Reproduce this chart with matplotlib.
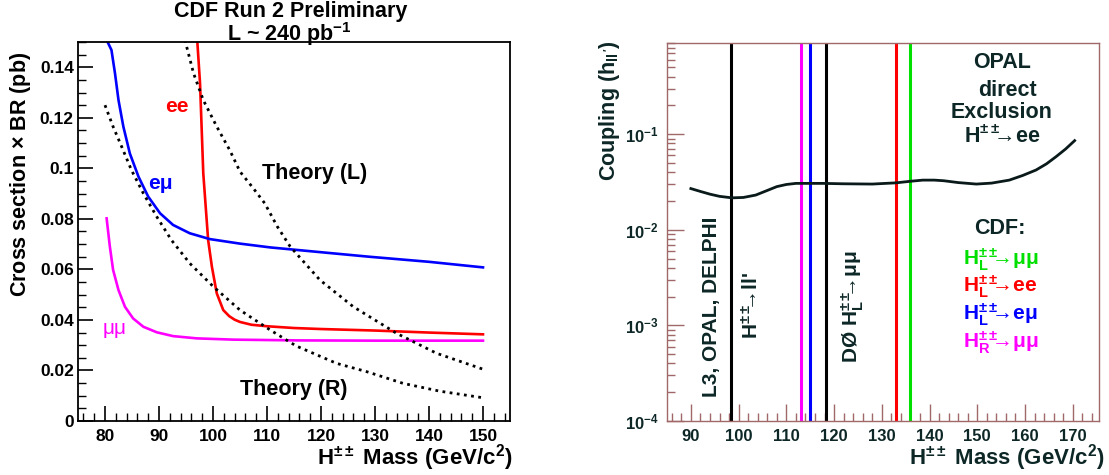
import matplotlib
matplotlib.use('Agg')
import matplotlib.pyplot as plt
from matplotlib.ticker import MultipleLocator, FuncFormatter, LogLocator, LogFormatterSciNotation

# Fonts: ROOT-like bold Helvetica
plt.rcParams['font.family'] = ['Liberation Sans', 'DejaVu Sans']
plt.rcParams['font.weight'] = 'bold'
plt.rcParams['mathtext.fontset'] = 'custom'
plt.rcParams['mathtext.rm'] = 'Liberation Sans:bold'
plt.rcParams['mathtext.it'] = 'Liberation Sans:bold'
plt.rcParams['mathtext.bf'] = 'Liberation Sans:bold'

# Left panel: cross section x BR limits (pb) vs mass
ee_mass = [97.1, 97.6, 98.2, 99.1, 99.8, 100.7, 101.9, 103.0, 104.0, 105.0, 107.1, 110.0, 115.0, 120.0, 130.0, 140.0, 150.0]
ee_xsec = [0.150, 0.1336, 0.098, 0.0716, 0.061, 0.0505, 0.0439, 0.0415, 0.0401, 0.0392, 0.0381, 0.0375, 0.0368, 0.0364, 0.0358, 0.0350, 0.0343]

emu_mass = [80.3, 81.2, 81.85, 82.5, 83.4, 84.6, 86.2, 88.0, 90.2, 92.6, 95.7, 99.4, 105.0, 110.6, 120.0, 129.0, 140.0, 150.0]
emu_xsec = [0.1508, 0.1468, 0.1376, 0.127, 0.1165, 0.1059, 0.0967, 0.0888, 0.0822, 0.0776, 0.0743, 0.072, 0.0702, 0.0687, 0.0668, 0.0650, 0.0630, 0.0608]

mumu_mass = [80.3, 80.9, 81.5, 82.5, 83.7, 85.2, 87.1, 89.6, 92.6, 97.0, 103.8, 115.7, 130.0, 150.0]
mumu_xsec = [0.0802, 0.069, 0.0598, 0.0518, 0.0452, 0.0406, 0.0373, 0.0351, 0.0336, 0.0327, 0.0322, 0.0319, 0.0318, 0.0318]

thL_mass = [94.8, 96.4, 98.2, 100.7, 103.1, 105.0, 107.5, 109.6, 111.9, 114.3, 119.8, 126.0, 134.0, 141.4, 150.0]
thL_xsec = [0.1508, 0.1376, 0.127, 0.1165, 0.1072, 0.0987, 0.0920, 0.0861, 0.0770, 0.069, 0.0558, 0.0452, 0.0347, 0.0268, 0.0205]

thR_mass = [80.0, 81.5, 83.1, 84.9, 87.1, 89.6, 92.3, 95.7, 100.1, 105.0, 110.6, 115.4, 122.9, 128.5, 135.2, 142.0, 150.0]
thR_xsec = [0.125, 0.1165, 0.1085, 0.0993, 0.0901, 0.0808, 0.0716, 0.0624, 0.0531, 0.0439, 0.0360, 0.0297, 0.0228, 0.0195, 0.0149, 0.0118, 0.0092]

# Right panel: OPAL exclusion curve and mass limits
opal_mass = [90.0, 92.0, 94.0, 96.0, 98.6, 101.0, 103.6, 106.0, 108.0, 110.0, 112.0, 117.6, 122.0, 128.0, 133.0,
             136.0, 138.6, 141.0, 143.0, 146.0, 149.8, 153.0, 156.7, 159.5, 162.3, 164.5, 166.5, 168.5, 170.4]
opal_coup = [0.027, 0.0252, 0.0236, 0.0224, 0.0216, 0.0218, 0.0231, 0.0258, 0.0283, 0.0298, 0.0306, 0.0306, 0.0303,
             0.0301, 0.031, 0.0322, 0.0331, 0.0331, 0.0326, 0.0312, 0.0301, 0.0308, 0.0331, 0.037, 0.0422, 0.049,
             0.0582, 0.070, 0.0857]

limit_mass = [98.5, 113.0, 115.0, 118.4, 133.0, 136.0]
limit_color = ['black', '#ff00ff', '#0000ff', 'black', '#ff0000', '#00e000']

W, H = 1109, 475
fig = plt.figure(figsize=(W / 100, H / 100), dpi=100)

def fx(px):
    return px / W

def fy(py):
    return 1 - py / H

# ---------------- left panel ----------------
ax = fig.add_axes([fx(78), fy(421), fx(510) - fx(78), fy(42) - fy(421)])
ax.plot(ee_mass, ee_xsec, color='#ff0000', lw=1.9)
ax.plot(emu_mass, emu_xsec, color='#0000ff', lw=1.9)
ax.plot(mumu_mass, mumu_xsec, color='#ff00ff', lw=1.9)
ax.plot(thL_mass, thL_xsec, color='black', lw=2.0, ls=(0, (1, 1.6)))
ax.plot(thR_mass, thR_xsec, color='black', lw=2.0, ls=(0, (1, 1.6)))
ax.set_xlim(75, 155)
ax.set_ylim(0, 0.15)
ax.xaxis.set_major_locator(MultipleLocator(10))
ax.xaxis.set_minor_locator(MultipleLocator(2))
ax.yaxis.set_major_locator(MultipleLocator(0.02))
ax.yaxis.set_minor_locator(MultipleLocator(0.005))
ax.yaxis.set_major_formatter(FuncFormatter(lambda v, p: '%g' % round(v, 3)))
ax.tick_params(which='both', direction='in', top=False, right=False, labelsize=12.5)
ax.tick_params(which='major', length=11, width=1.2)
ax.tick_params(which='minor', length=6, width=1.0)
ax.tick_params(axis='y', pad=3)
ax.tick_params(axis='x', pad=6)
for s in ax.spines.values():
    s.set_linewidth(1.3)

ax.text(93.3, 0.1244, 'ee', color='#ff0000', fontsize=15, ha='center', va='center')
ax.text(90.2, 0.094, 'e\u03bc', color='#0000ff', fontsize=15, ha='center', va='center')
ax.text(81.7, 0.0367, '\u03bc\u03bc', color='#ff00ff', fontsize=15, ha='center', va='center', fontweight='normal')
ax.text(118.9, 0.098, 'Theory (L)', fontsize=15.5, ha='center', va='center')
ax.text(114.9, 0.0123, 'Theory (R)', fontsize=15.5, ha='center', va='center')

fig.text(fx(291), fy(11), 'CDF Run 2 Preliminary', fontsize=15.5, ha='center', va='center')
fig.text(fx(289), fy(34), r'L ~ 240 pb$^{\mathregular{-1}}$', fontsize=15.5, ha='center', va='center')
fig.text(fx(21), fy(52), r'Cross section $\times$ BR (pb)', fontsize=15.5, rotation=90, ha='center', va='top')
fig.text(fx(513), fy(458), r'H$^{\pm\pm}$ Mass (GeV/c$^{2}$)', fontsize=16, ha='right', va='center')

# ---------------- right panel ----------------
frame = '#a06868'
txt = '#0d2626'
ax2 = fig.add_axes([fx(667), fy(421), fx(1099) - fx(667), fy(43) - fy(421)])
ax2.set_yscale('log')
ax2.set_xlim(85, 175.5)
ax2.set_ylim(1e-4, 0.9)
for m, c in zip(limit_mass, limit_color):
    ax2.axvline(m, color=c, lw=2.2)
ax2.plot(opal_mass, opal_coup, color='#0a1a1a', lw=2.0)
ax2.xaxis.set_major_locator(MultipleLocator(10))
ax2.xaxis.set_minor_locator(MultipleLocator(2))
ax2.yaxis.set_major_locator(LogLocator(base=10, numticks=10))
ax2.yaxis.set_minor_locator(LogLocator(base=10, subs=range(2, 10), numticks=10))
ax2.yaxis.set_major_formatter(LogFormatterSciNotation())
ax2.tick_params(which='both', direction='in', top=False, right=False, labelsize=12,
                colors=frame, labelcolor=txt)
ax2.tick_params(which='major', length=12, width=1.0)
ax2.tick_params(which='minor', length=6, width=1.0)
ax2.tick_params(axis='y', pad=6)
ax2.tick_params(axis='x', pad=6)
for s in ax2.spines.values():
    s.set_color(frame)
    s.set_linewidth(1.0)

arrow = r'\!\!\!\!{\rightarrow}\!'
fig.text(fx(1002), fy(63), 'OPAL', fontsize=15.5, ha='center', va='center', color=txt)
fig.text(fx(1007), fy(90), 'direct', fontsize=15.5, ha='center', va='center', color=txt)
fig.text(fx(1002), fy(113), 'Exclusion', fontsize=15.5, ha='center', va='center', color=txt)
fig.text(fx(1002), fy(137), r'H$^{\pm\pm}' + arrow + '$ee', fontsize=15.5, ha='center', va='center', color=txt)
fig.text(fx(1000), fy(228), 'CDF:', fontsize=15.5, ha='center', va='center', color=txt)

legend_rows = [(r'H$_{L}^{\pm\pm}' + arrow + '$μμ', '#00e000', 260),
               (r'H$_{L}^{\pm\pm}' + arrow + '$ee', '#ff0000', 287),
               (r'H$_{L}^{\pm\pm}' + arrow + '$eμ', '#0000ff', 315),
               (r'H$_{R}^{\pm\pm}' + arrow + '$μμ', '#ff00ff', 343)]
for label, col, ypix in legend_rows:
    fig.text(fx(963), fy(ypix), label, fontsize=15, ha='left', va='center', color=col)

fig.text(fx(712), fy(307), 'L3, OPAL, DELPHI', fontsize=15, rotation=90, ha='center', va='center', color=txt)
fig.text(fx(752), fy(305), r'H$^{\pm\pm}' + arrow + "$ll'", fontsize=15, rotation=90, ha='center', va='center', color=txt)
fig.text(fx(853), fy(306), r'DØ H$_{L}^{\pm\pm}' + arrow + '$μμ', fontsize=15, rotation=90, ha='center', va='center', color=txt)

fig.text(fx(610), fy(40), r"Coupling (h$_{ll'}$)", fontsize=15.5, rotation=90, ha='center', va='top', color=txt)
fig.text(fx(1105), fy(458), r'H$^{\pm\pm}$ Mass (GeV/c$^{2}$)', fontsize=16, ha='right', va='center', color=txt)

fig.savefig('out.png', dpi=100)
